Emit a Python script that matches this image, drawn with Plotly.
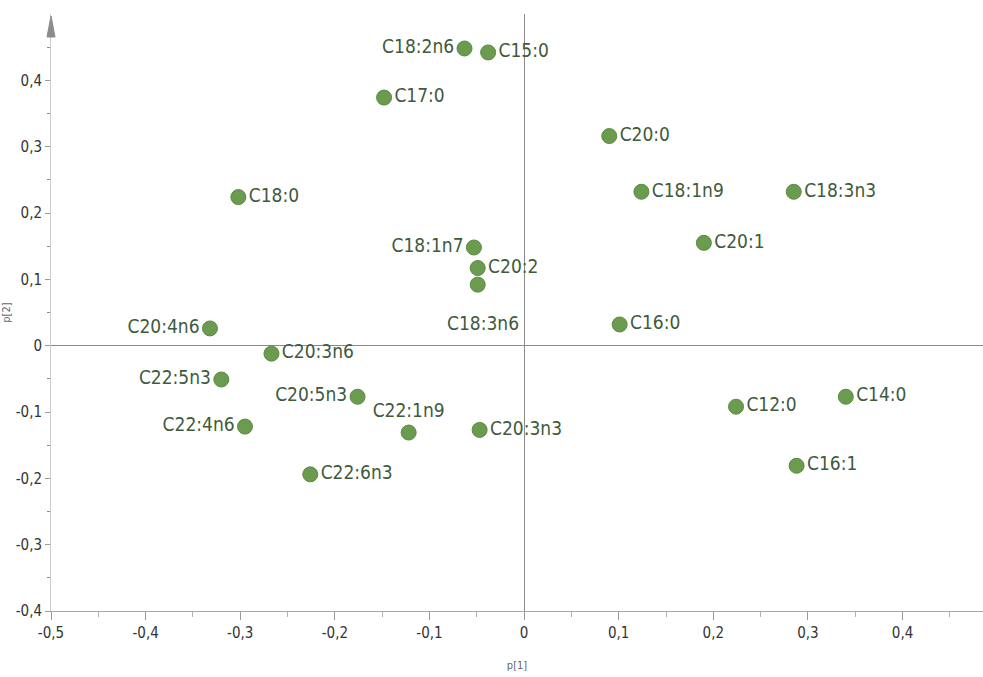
import plotly.graph_objects as go

# Loadings of fatty acids on the first two components
acids = ["C18:2n6", "C15:0", "C17:0", "C20:0", "C18:0", "C18:1n9", "C18:3n3",
         "C20:1", "C18:1n7", "C20:2", "C18:3n6", "C16:0", "C20:4n6", "C20:3n6",
         "C22:5n3", "C20:5n3", "C22:1n9", "C20:3n3", "C22:4n6", "C22:6n3",
         "C12:0", "C14:0", "C16:1"]
p1 = [-0.063, -0.038, -0.148, 0.090, -0.302, 0.124, 0.285,
      0.190, -0.053, -0.049, -0.049, 0.101, -0.332, -0.267,
      -0.320, -0.176, -0.122, -0.047, -0.295, -0.226,
      0.224, 0.340, 0.288]
p2 = [0.448, 0.442, 0.374, 0.316, 0.224, 0.232, 0.232,
      0.155, 0.148, 0.117, 0.092, 0.032, 0.026, -0.012,
      -0.051, -0.077, -0.131, -0.127, -0.122, -0.194,
      -0.092, -0.077, -0.181]
label_side = ["middle left", "middle right", "middle right", "middle right",
              "middle right", "middle right", "middle right", "middle right",
              "middle left", "middle right", "bottom center", "middle right",
              "middle left", "middle right", "middle left", "middle left",
              "top center", "middle right", "middle left", "middle right",
              "middle right", "middle right", "middle right"]

major_x = [-0.5, -0.4, -0.3, -0.2, -0.1, 0.0, 0.1, 0.2, 0.3, 0.4]
minor_x = [-0.45, -0.35, -0.25, -0.15, -0.05, 0.05, 0.15, 0.25, 0.35, 0.45]
major_y = [-0.4, -0.3, -0.2, -0.1, 0.0, 0.1, 0.2, 0.3, 0.4]
minor_y = [-0.35, -0.25, -0.15, -0.05, 0.05, 0.15, 0.25, 0.35, 0.45]


def comma(v):
    s = f"{v:.1f}".replace(".", ",")
    return "0" if s in ("0,0", "-0,0") else s


FONT = "DejaVu Sans Condensed, sans-serif"
LABEL_FONT = dict(family=FONT, size=19, color="#3f5a3c")

# The C18:3n6 label sits well below its point, so it is placed as an annotation
detached = {"C18:3n6": -38}
trace_text = ["" if a in detached else a for a in acids]

fig = go.Figure(go.Scatter(
    x=p1, y=p2, mode="markers+text", text=trace_text, textposition=label_side,
    marker=dict(size=15, color="#6b9b4f", line=dict(color="#5b8a41", width=1)),
    textfont=LABEL_FONT, cliponaxis=False, hoverinfo="skip",
))

for name, shift in detached.items():
    i = acids.index(name)
    fig.add_annotation(x=p1[i], y=p2[i], text=name, showarrow=False,
                       xshift=5, yshift=shift, font=LABEL_FONT)

axis_common = dict(
    showgrid=False, zeroline=True, zerolinecolor="#8a8a8a", zerolinewidth=1,
    showline=True, ticks="outside", tickcolor="#9a9a9a", tickwidth=1,
    tickfont=dict(family=FONT, size=15, color="#333333"),
    title_font=dict(family=FONT, size=11, color="#666666"),
)

fig.update_xaxes(
    range=[-0.5, 0.485], tickvals=major_x, ticktext=[comma(v) for v in major_x],
    ticklen=8, linecolor="#a8a8a8",
    minor=dict(tickvals=minor_x, ticks="outside", ticklen=5, tickcolor="#b0b0b0"),
    title_text="p[1]", title_standoff=20, **axis_common,
)
fig.update_yaxes(
    range=[-0.4, 0.5], tickvals=major_y, ticktext=[comma(v) for v in major_y],
    ticklen=5, linecolor="#cccccc",
    minor=dict(tickvals=minor_y, ticks="outside", ticklen=3, tickcolor="#888888"),
    title_text="p[2]", title_standoff=2, **axis_common,
)

# Arrowhead at the top of the vertical axis
fig.add_shape(
    type="path", xref="paper", yref="paper", xsizemode="pixel", ysizemode="pixel",
    xanchor=0, yanchor=1, path="M-4,-23 L4,-23 L0,-2 Z",
    fillcolor="#8c8c8c", line=dict(color="#8c8c8c", width=1), layer="above",
)

fig.update_layout(
    width=983, height=677, autosize=False,
    margin=dict(l=51, r=0, t=14, b=66),
    paper_bgcolor="white", plot_bgcolor="white", showlegend=False,
)
fig.update_xaxes(automargin=False)
fig.update_yaxes(automargin=False)

fig.write_html("out.html")
